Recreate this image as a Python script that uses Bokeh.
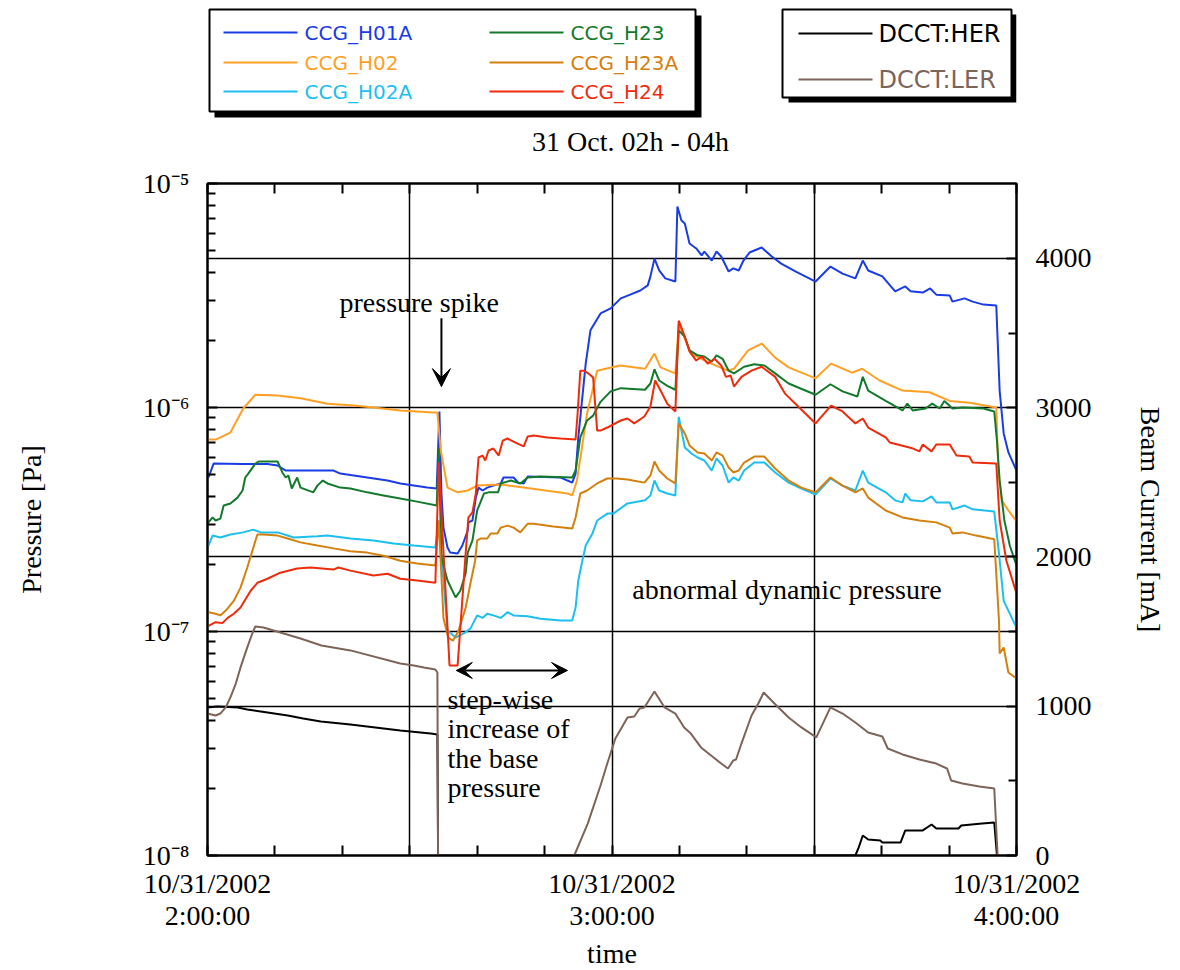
from bokeh.plotting import figure
from bokeh.layouts import column
from bokeh.models import (Range1d, LinearAxis, LinearScale, FixedTicker, CustomJSTickFormatter,
                          Grid, Label, Arrow, VeeHead)
from bokeh.core.properties import value
from bokeh.embed import file_html
from bokeh.resources import INLINE

SERIF = "Liberation Serif"
SANS = "DejaVu Sans"

# ---------------- data: (minutes after 02:00, pressure [Pa]) ----------------
h01a = [(0.15, 4.87e-7), (0.9, 5.62e-7), (5.0, 5.6e-7), (8.9, 5.6e-7), (10.4, 5.51e-7), (11.6, 5.23e-7),
        (18.7, 5.23e-7), (19.7, 5.07e-7), (23.7, 4.87e-7), (26.7, 4.72e-7), (28.6, 4.58e-7), (32.6, 4.39e-7),
        (34.0, 4.35e-7), (34.4, 9.6e-7), (34.7, 4.13e-7), (35.0, 2.91e-7), (35.6, 2.37e-7), (36.0, 2.25e-7),
        (37.1, 2.23e-7), (37.8, 2.42e-7), (38.6, 2.82e-7), (38.7, 3.07e-7), (39.3, 3.13e-7), (39.8, 3.96e-7),
        (40.2, 4.39e-7), (40.8, 4.26e-7), (41.5, 4.39e-7), (42.4, 4.48e-7), (43.5, 4.58e-7), (43.9, 4.87e-7),
        (45.4, 4.87e-7), (46.1, 4.62e-7), (46.9, 4.58e-7), (47.5, 4.92e-7), (52.4, 4.87e-7), (53.4, 4.72e-7),
        (54.1, 4.62e-7), (54.6, 5.07e-7), (55.0, 7.35e-7), (55.6, 1.11e-6), (56.1, 1.57e-6), (56.8, 2.21e-6),
        (58.3, 2.63e-6), (59.8, 2.77e-6), (61.3, 3.07e-6), (62.7, 3.19e-6), (64.2, 3.33e-6), (65.3, 3.51e-6),
        (65.7, 3.85e-6), (66.3, 4.62e-6), (67.0, 4.09e-6), (67.9, 3.77e-6), (69.4, 3.65e-6), (69.7, 7.89e-6),
        (70.3, 6.84e-6), (70.8, 6.63e-6), (71.5, 5.40e-6), (72.5, 5.13e-6), (73.3, 4.78e-6), (73.7, 4.97e-6),
        (74.8, 4.53e-6), (75.5, 4.97e-6), (76.2, 4.72e-6), (77.3, 4.05e-6), (78.0, 4.18e-6), (78.8, 4.09e-6),
        (79.5, 4.53e-6), (80.4, 4.92e-6), (82.2, 5.18e-6), (83.7, 4.72e-6), (85.1, 4.39e-6), (87.2, 4.05e-6),
        (90.2, 3.65e-6), (92.4, 4.26e-6), (94.2, 3.96e-6), (96.1, 3.77e-6), (97.2, 4.53e-6), (98.0, 4.09e-6),
        (100.1, 3.85e-6), (102.0, 3.30e-6), (103.5, 3.47e-6), (104.3, 3.30e-6), (106.1, 3.26e-6), (107.2, 3.40e-6),
        (108.1, 3.19e-6), (110.1, 3.16e-6), (110.5, 2.97e-6), (112.3, 3.07e-6), (113.5, 2.97e-6), (115.1, 2.88e-6),
        (117.0, 2.85e-6), (117.5, 1.19e-6), (118.1, 7.66e-7), (118.8, 6.30e-7), (120.0, 5.23e-7)]

h02 = [(0.15, 7.2e-7), (1.3, 7.2e-7), (3.4, 7.73e-7), (5.3, 9.9e-7), (7.1, 1.14e-6), (10.4, 1.13e-6),
       (13.8, 1.10e-6), (17.8, 1.04e-6), (21.7, 1.02e-6), (24.6, 1.0e-6), (28.6, 9.7e-7), (33.5, 9.5e-7),
       (34.1, 9.5e-7), (34.6, 6.43e-7), (35.6, 4.39e-7), (37.1, 4.18e-7), (38.6, 4.26e-7), (40.0, 4.48e-7),
       (43.5, 4.53e-7), (46.9, 4.39e-7), (53.4, 4.13e-7), (54.1, 4.05e-7), (54.8, 4.72e-7), (56.3, 9.4e-7),
       (57.8, 1.46e-6), (61.2, 1.54e-6), (64.9, 1.49e-6), (66.3, 1.74e-6), (67.2, 1.51e-6), (69.4, 1.42e-6),
       (69.9, 2.37e-6), (71.7, 1.74e-6), (74.7, 1.57e-6), (77.2, 1.46e-6), (78.1, 1.49e-6), (80.2, 1.80e-6),
       (82.2, 1.93e-6), (84.2, 1.67e-6), (86.2, 1.51e-6), (90.2, 1.35e-6), (92.5, 1.57e-6), (95.6, 1.43e-6),
       (97.1, 1.49e-6), (99.7, 1.32e-6), (103.1, 1.19e-6), (107.1, 1.17e-6), (110.1, 1.07e-6), (113.0, 1.05e-6),
       (117.0, 1.0e-6), (117.3, 5.23e-7), (117.8, 3.85e-7), (118.8, 3.47e-7), (120.0, 3.1e-7)]

h02a = [(0.15, 2.42e-7), (0.75, 2.68e-7), (1.9, 2.63e-7), (3.4, 2.71e-7), (5.3, 2.77e-7), (6.8, 2.85e-7),
        (7.9, 2.77e-7), (10.4, 2.77e-7), (12.8, 2.63e-7), (16.3, 2.66e-7), (17.8, 2.68e-7), (21.2, 2.60e-7),
        (24.6, 2.55e-7), (27.6, 2.47e-7), (30.6, 2.42e-7), (33.8, 2.37e-7), (34.3, 3.13e-7), (35.6, 1.01e-7),
        (36.8, 9.4e-8), (38.0, 9.8e-8), (39.0, 1.03e-7), (40.0, 1.18e-7), (40.8, 1.15e-7), (41.5, 1.20e-7),
        (42.4, 1.18e-7), (43.5, 1.15e-7), (44.5, 1.22e-7), (45.4, 1.18e-7), (47.5, 1.17e-7), (49.4, 1.14e-7),
        (52.4, 1.12e-7), (54.1, 1.12e-7), (54.6, 1.28e-7), (55.0, 1.69e-7), (55.6, 2.07e-7), (56.1, 2.42e-7),
        (57.1, 2.74e-7), (57.8, 3.13e-7), (59.3, 3.36e-7), (60.2, 3.36e-7), (62.3, 3.73e-7), (64.9, 3.85e-7),
        (65.7, 4.05e-7), (66.3, 4.72e-7), (67.0, 4.26e-7), (68.2, 4.13e-7), (69.4, 4.05e-7), (69.9, 9.1e-7),
        (70.8, 6.63e-7), (71.8, 6.23e-7), (72.7, 5.98e-7), (73.7, 5.80e-7), (74.8, 5.23e-7), (75.5, 5.92e-7),
        (76.4, 5.51e-7), (77.3, 4.62e-7), (78.0, 4.87e-7), (78.8, 4.72e-7), (79.6, 5.23e-7), (81.1, 5.68e-7),
        (82.6, 5.68e-7), (84.2, 5.13e-7), (86.2, 4.62e-7), (88.1, 4.35e-7), (90.2, 4.09e-7), (92.4, 4.82e-7),
        (94.2, 4.48e-7), (96.1, 4.26e-7), (97.2, 5.23e-7), (98.0, 4.62e-7), (100.6, 4.18e-7), (102.0, 3.85e-7),
        (103.1, 3.77e-7), (103.5, 4.13e-7), (104.3, 3.85e-7), (106.1, 3.81e-7), (107.4, 4.01e-7), (108.1, 3.77e-7),
        (110.1, 3.77e-7), (110.5, 3.51e-7), (112.3, 3.65e-7), (113.5, 3.51e-7), (116.7, 3.43e-7), (117.4, 2.23e-7),
        (118.1, 1.37e-7), (120.0, 1.04e-7)]

h23 = [(0.0, 3.03e-7), (0.75, 3.23e-7), (1.2, 3.13e-7), (1.9, 3.19e-7), (2.4, 3.65e-7), (3.4, 3.73e-7),
       (4.45, 3.96e-7), (5.2, 4.26e-7), (5.6, 4.87e-7), (6.05, 5.07e-7), (7.1, 5.62e-7), (7.6, 5.74e-7),
       (10.4, 5.74e-7), (11.1, 5.13e-7), (11.6, 4.87e-7), (12.0, 4.97e-7), (12.5, 4.35e-7), (13.3, 4.87e-7),
       (13.8, 4.39e-7), (15.7, 4.18e-7), (16.3, 4.48e-7), (17.1, 4.72e-7), (17.8, 4.58e-7), (19.7, 4.39e-7),
       (21.2, 4.35e-7), (23.7, 4.18e-7), (26.1, 4.05e-7), (28.6, 3.92e-7), (31.1, 3.80e-7), (34.0, 3.65e-7),
       (34.3, 6.56e-7), (34.7, 2.14e-7), (35.6, 1.69e-7), (36.8, 1.42e-7), (37.5, 1.52e-7), (38.3, 1.82e-7),
       (38.6, 2.25e-7), (39.3, 2.55e-7), (40.0, 3.47e-7), (41.0, 4.13e-7), (41.7, 4.18e-7), (43.1, 4.18e-7),
       (43.5, 4.58e-7), (45.0, 4.72e-7), (46.4, 4.58e-7), (47.5, 4.87e-7), (49.4, 4.92e-7), (54.1, 4.87e-7),
       (54.6, 5.23e-7), (55.3, 7.35e-7), (56.3, 8.75e-7), (57.2, 9.2e-7), (58.3, 1.06e-6), (59.8, 1.18e-6),
       (61.3, 1.22e-6), (64.9, 1.20e-6), (65.7, 1.28e-6), (66.3, 1.48e-6), (67.0, 1.32e-6), (68.2, 1.25e-6),
       (69.4, 1.20e-6), (69.9, 2.21e-6), (70.8, 2.07e-6), (71.5, 1.80e-6), (72.7, 1.71e-6), (73.7, 1.69e-6),
       (74.8, 1.60e-6), (75.5, 1.71e-6), (76.4, 1.65e-6), (77.3, 1.46e-6), (78.1, 1.42e-6), (79.6, 1.52e-6),
       (81.1, 1.56e-6), (82.6, 1.54e-6), (84.2, 1.42e-6), (86.2, 1.28e-6), (90.2, 1.14e-6), (92.4, 1.27e-6),
       (94.2, 1.18e-6), (96.4, 1.12e-6), (97.2, 1.37e-6), (98.0, 1.19e-6), (100.6, 1.07e-6), (103.1, 9.7e-7),
       (103.8, 1.04e-6), (104.6, 9.7e-7), (106.5, 9.9e-7), (107.5, 1.04e-6), (108.6, 9.9e-7), (109.3, 1.07e-6),
       (110.5, 9.9e-7), (112.0, 1.0e-6), (115.1, 9.9e-7), (116.7, 9.6e-7), (117.1, 7.12e-7), (117.5, 4.72e-7),
       (118.2, 3.13e-7), (119.0, 2.42e-7), (120.0, 1.97e-7)]

h23a = [(0.15, 1.22e-7), (1.2, 1.20e-7), (1.9, 1.18e-7), (2.7, 1.24e-7), (3.9, 1.37e-7), (4.9, 1.57e-7),
        (5.9, 1.93e-7), (6.8, 2.37e-7), (7.4, 2.71e-7), (8.3, 2.71e-7), (10.4, 2.68e-7), (11.9, 2.60e-7),
        (13.8, 2.50e-7), (16.3, 2.42e-7), (18.7, 2.35e-7), (21.2, 2.28e-7), (23.7, 2.25e-7), (26.1, 2.18e-7),
        (28.6, 2.07e-7), (31.1, 2.01e-7), (33.8, 1.97e-7), (34.3, 3.13e-7), (35.0, 1.15e-7), (35.7, 9.4e-8),
        (36.4, 9.1e-8), (37.2, 1.0e-7), (38.3, 1.28e-7), (39.0, 1.64e-7), (39.7, 2.07e-7), (40.0, 2.55e-7),
        (40.5, 2.60e-7), (41.5, 2.60e-7), (42.0, 2.74e-7), (43.0, 2.74e-7), (43.5, 2.91e-7), (44.5, 2.97e-7),
        (45.4, 2.91e-7), (46.4, 2.77e-7), (47.5, 3.03e-7), (48.4, 3.03e-7), (51.3, 2.94e-7), (54.1, 2.88e-7),
        (54.6, 3.23e-7), (55.3, 4.13e-7), (56.3, 4.26e-7), (57.8, 4.58e-7), (59.3, 4.82e-7), (60.7, 4.82e-7),
        (62.3, 4.77e-7), (64.8, 4.62e-7), (65.7, 4.97e-7), (66.3, 5.74e-7), (67.0, 5.23e-7), (68.2, 4.82e-7),
        (69.4, 4.58e-7), (69.9, 8.49e-7), (70.8, 7.66e-7), (71.5, 6.77e-7), (72.7, 6.30e-7), (73.7, 6.23e-7),
        (74.8, 5.80e-7), (75.5, 6.30e-7), (76.4, 6.1e-7), (77.3, 5.40e-7), (78.0, 5.13e-7), (78.8, 5.23e-7),
        (79.6, 5.68e-7), (81.1, 6.04e-7), (82.6, 6.04e-7), (84.2, 5.34e-7), (86.2, 4.72e-7), (88.1, 4.39e-7),
        (90.2, 4.18e-7), (92.4, 4.87e-7), (94.2, 4.48e-7), (96.1, 4.18e-7), (97.2, 4.35e-7), (98.0, 3.96e-7),
        (100.6, 3.47e-7), (103.1, 3.23e-7), (105.6, 3.13e-7), (108.1, 3.07e-7), (110.1, 2.91e-7), (110.5, 2.74e-7),
        (112.0, 2.77e-7), (114.0, 2.68e-7), (116.7, 2.58e-7), (117.4, 1.12e-7), (117.5, 7.97e-8), (118.1, 8.49e-8),
        (118.8, 6.56e-8), (120.0, 6.17e-8)]

h24 = [(0.15, 1.06e-7), (1.2, 1.10e-7), (2.2, 1.09e-7), (3.0, 1.15e-7), (3.9, 1.20e-7), (4.9, 1.28e-7),
       (6.4, 1.52e-7), (7.4, 1.65e-7), (8.9, 1.72e-7), (10.8, 1.83e-7), (13.3, 1.91e-7), (15.3, 1.93e-7),
       (18.7, 1.89e-7), (19.4, 1.93e-7), (21.2, 1.87e-7), (24.6, 1.78e-7), (26.7, 1.81e-7), (28.6, 1.72e-7),
       (31.1, 1.69e-7), (33.8, 1.65e-7), (34.3, 5.68e-7), (35.9, 7.05e-8), (37.1, 7.05e-8), (38.3, 2.25e-7),
       (38.7, 3.23e-7), (39.3, 3.40e-7), (39.8, 4.13e-7), (40.2, 5.98e-7), (40.8, 6.1e-7), (41.2, 5.80e-7),
       (41.7, 6.43e-7), (42.4, 6.56e-7), (43.2, 6.1e-7), (43.8, 7.12e-7), (44.5, 7.27e-7), (46.0, 6.9e-7),
       (46.9, 6.7e-7), (47.5, 7.43e-7), (48.4, 7.5e-7), (50.4, 7.35e-7), (52.4, 7.27e-7), (54.6, 7.2e-7),
       (54.9, 9.4e-7), (55.3, 1.46e-6), (55.8, 1.46e-6), (56.5, 1.42e-6), (57.2, 1.36e-6), (57.8, 7.89e-7),
       (58.3, 7.89e-7), (59.3, 8.14e-7), (61.3, 8.75e-7), (62.3, 8.93e-7), (63.3, 8.49e-7), (64.8, 9.12e-7),
       (65.7, 1.01e-6), (66.4, 1.32e-6), (67.2, 1.19e-6), (68.2, 1.04e-6), (69.4, 9.6e-7), (69.9, 2.44e-6),
       (70.8, 2.07e-6), (71.5, 1.78e-6), (72.5, 1.62e-6), (73.3, 1.69e-6), (74.2, 1.57e-6), (75.2, 1.65e-6),
       (76.2, 1.54e-6), (76.9, 1.37e-6), (77.6, 1.39e-6), (78.1, 1.24e-6), (79.2, 1.37e-6), (80.7, 1.46e-6),
       (82.2, 1.52e-6), (84.2, 1.37e-6), (85.7, 1.15e-6), (87.2, 1.04e-6), (90.2, 8.49e-7), (92.5, 1.02e-6),
       (94.2, 9.6e-7), (96.1, 8.49e-7), (97.2, 8.93e-7), (98.0, 8.14e-7), (100.6, 7.35e-7), (101.2, 6.98e-7),
       (104.4, 6.6e-7), (105.6, 6.37e-7), (106.1, 6.84e-7), (107.4, 6.37e-7), (108.1, 6.84e-7), (110.1, 6.84e-7),
       (111.1, 6.1e-7), (113.0, 6.04e-7), (113.5, 5.68e-7), (117.0, 5.62e-7), (117.5, 3.13e-7), (118.5, 2.07e-7),
       (120.0, 1.48e-7)]

# ---------------- data: (minutes after 02:00, beam current [mA]) ----------------
her = [(0.0, 992), (1.5, 998), (4.5, 992), (5.9, 978), (7.9, 965), (11.9, 938), (14.2, 918), (16.8, 898),
       (21.2, 878), (28.6, 838), (33.1, 818), (34.1, 811), (34.2, 0), (96.1, 0), (96.6, 54), (97.2, 134),
       (98.0, 107), (99.8, 100), (100.1, 87), (102.8, 87), (103.5, 168), (106.1, 168), (107.4, 208),
       (108.1, 181), (111.4, 181), (111.8, 201), (114.9, 214), (116.7, 221), (117.1, 0)]

ler = [(0.0, 951), (1.2, 938), (1.9, 951), (2.7, 992), (3.4, 1059), (4.2, 1152), (4.9, 1260), (5.9, 1394),
       (6.7, 1494), (7.1, 1534), (8.3, 1528), (13.8, 1454), (16.9, 1407), (21.2, 1374), (28.6, 1286),
       (30.6, 1273), (32.1, 1260), (33.8, 1246), (34.1, 1226), (34.2, 0), (54.4, 0), (56.4, 214), (58.3, 469),
       (59.3, 616), (60.5, 784), (62.3, 925), (63.3, 931), (64.1, 985), (64.8, 992), (66.3, 1099), (67.8, 992),
       (69.4, 951), (70.7, 858), (71.7, 817), (73.2, 724), (74.7, 670), (76.2, 616), (77.2, 583), (78.0, 637),
       (78.4, 643), (79.2, 750), (80.7, 938), (81.7, 1018), (82.5, 1092), (84.1, 1018), (86.2, 925),
       (88.1, 858), (90.3, 791), (92.4, 992), (94.2, 951), (96.1, 891), (98.0, 824), (100.1, 797),
       (100.9, 717), (103.1, 677), (105.6, 643), (108.1, 616), (109.7, 583), (110.3, 503), (112.0, 482),
       (114.5, 462), (116.7, 449), (117.2, 0)]

pressure_names = ["CCG_H01A", "CCG_H02", "CCG_H02A", "CCG_H23", "CCG_H23A", "CCG_H24"]
pressure_colors = ["#1a3ce6", "#ffa024", "#1cbff0", "#137a2c", "#d4800e", "#ee2c0c"]
pressure_series = [h01a, h02, h02a, h23, h23a, h24]

current_names = ["DCCT:HER", "DCCT:LER"]
current_colors = ["#000000", "#7d6459"]
current_series = [her, ler]

x_tick_values = [0, 60, 120]
x_tick_labels = ["10/31/2002\n2:00:00", "10/31/2002\n3:00:00", "10/31/2002\n4:00:00"]
x_minor_ticks = [10, 20, 30, 40, 50, 70, 80, 90, 100, 110]
y_tick_values = [1e-8, 1e-7, 1e-6, 1e-5]
y_tick_labels = ["10\u207b\u2078", "10\u207b\u2077", "10\u207b\u2076", "10\u207b\u2075"]
current_tick_values = [0, 1000, 2000, 3000, 4000]

title_text = "31 Oct. 02h - 04h"

# layout geometry (pixels)
FRAME_W, FRAME_H = 809, 672
BORDER_L, BORDER_R = 207, 160
TOP_H = 160

# ---------------- top strip: legends and title ----------------
# its frame is aligned with the chart frame by the column layout; data units = page pixels
top = figure(frame_width=FRAME_W, frame_height=TOP_H, x_range=Range1d(BORDER_L, BORDER_L + FRAME_W),
             y_range=Range1d(TOP_H, 0), x_axis_location=None, y_axis_location=None,
             output_backend="svg", toolbar_location=None, min_border_left=BORDER_L,
             min_border_right=BORDER_R, min_border_top=0, min_border_bottom=0)
top.grid.visible = False
top.outline_line_color = None

# legend 1 (pressures)
top.quad(left=[214], right=[701], top=[15], bottom=[117], fill_color="black", line_color=None)
top.quad(left=[209], right=[695], top=[9], bottom=[111], fill_color="white", line_color="black", line_width=2)
col_x = [223, 489]
row_y = [32, 62, 91]
lx0 = [col_x[i // 3] for i in range(len(pressure_names))]
ly = [row_y[i % 3] for i in range(len(pressure_names))]
top.segment(x0=lx0, y0=ly, x1=[x + 74 for x in lx0], y1=ly, line_color=pressure_colors, line_width=2)
top.text(x=[x + 81 for x in lx0], y=ly, text=pressure_names, text_color=pressure_colors,
         text_font=value(SANS), text_font_size=value("20px"), text_baseline="middle", text_align="left")

# legend 2 (currents)
top.quad(left=[788], right=[1016], top=[14], bottom=[102], fill_color="black", line_color=None)
top.quad(left=[782], right=[1011], top=[9], bottom=[97], fill_color="white", line_color="black", line_width=2)
ly2 = [33, 79]
top.segment(x0=[798, 798], y0=ly2, x1=[872, 872], y1=ly2, line_color=current_colors, line_width=2)
top.text(x=[878, 878], y=ly2, text=current_names, text_color=current_colors,
         text_font=value(SANS), text_font_size=value("24px"), text_baseline="middle", text_align="left")

top.text(x=[630], y=[141], text=[title_text], text_color="black", text_font=value(SERIF),
         text_font_size=value("28px"), text_baseline="middle", text_align="center")

# ---------------- main chart ----------------
p = figure(frame_width=FRAME_W, frame_height=FRAME_H, x_range=Range1d(0, 120), y_range=Range1d(1e-8, 1e-5),
           y_axis_type="log", output_backend="svg", toolbar_location=None,
           min_border_left=BORDER_L, min_border_right=BORDER_R, min_border_top=23, min_border_bottom=5)
p.extra_y_ranges = {"current": Range1d(0, 4502)}
p.extra_y_scales = {"current": LinearScale()}
p.outline_line_color = "black"
p.outline_line_width = 2
p.background_fill_color = "white"


def style_axis(ax):
    ax.axis_line_width = 2
    ax.axis_line_color = "black"
    ax.major_tick_in = 10
    ax.major_tick_out = 0
    ax.minor_tick_in = 8
    ax.minor_tick_out = 0
    ax.major_tick_line_width = 2
    ax.minor_tick_line_width = 2
    ax.major_tick_line_color = "black"
    ax.minor_tick_line_color = "black"
    ax.major_label_text_font = SERIF
    ax.major_label_text_font_size = "28px"
    ax.major_label_text_color = "black"
    ax.axis_label_text_font = SERIF
    ax.axis_label_text_font_size = "28px"
    ax.axis_label_text_font_style = "normal"
    ax.axis_label_text_color = "black"


xax = p.xaxis[0]
xax.ticker = FixedTicker(ticks=x_tick_values, minor_ticks=x_minor_ticks)
xax.formatter = CustomJSTickFormatter(args=dict(vals=x_tick_values, txt=x_tick_labels),
                                      code="const i = vals.indexOf(tick); return i < 0 ? '' : txt[i];")
xax.axis_label = "time"
style_axis(xax)
xax.minor_tick_in = 10
xax.major_label_standoff = 12
xax.major_label_text_line_height = 1.05
xax.axis_label_standoff = 4

topax = LinearAxis(ticker=FixedTicker(ticks=[], minor_ticks=x_tick_values + x_minor_ticks))
style_axis(topax)
topax.minor_tick_in = 10
p.add_layout(topax, "above")

yax = p.yaxis[0]
yax.ticker = FixedTicker(ticks=y_tick_values,
                         minor_ticks=[m * 10.0 ** e for e in (-8, -7, -6) for m in range(2, 10)])
yax.formatter = CustomJSTickFormatter(
    args=dict(vals=y_tick_values, txt=y_tick_labels),
    code="for (let i = 0; i < vals.length; i++) { if (Math.abs(tick - vals[i]) < 1e-3 * vals[i]) return txt[i]; } return '';")
yax.axis_label = "Pressure [Pa]"
style_axis(yax)
yax.major_label_standoff = 18
yax.axis_label_standoff = 93

rax = LinearAxis(y_range_name="current",
                 ticker=FixedTicker(ticks=current_tick_values, minor_ticks=[500, 1500, 2500, 3500]),
                 axis_label="Beam Current [mA]")
style_axis(rax)
rax.major_label_standoff = 19
rax.axis_label_standoff = 40
p.add_layout(rax, "right")

for g in (p.xgrid[0], p.ygrid[0]):
    g.grid_line_color = "black"
    g.grid_line_width = 1.5
    g.grid_line_alpha = 1.0
p.xgrid[0].ticker = FixedTicker(ticks=[30, 60, 90])
p.ygrid[0].ticker = FixedTicker(ticks=[1e-7, 1e-6])
p.add_layout(Grid(dimension=1, y_range_name="current",
                  ticker=FixedTicker(ticks=[1000, 2000, 4000]),
                  grid_line_color="black", grid_line_width=1.5))

for series, color in zip(current_series, current_colors):
    t, v = zip(*series)
    p.line(list(t), list(v), line_color=color, line_width=2, y_range_name="current")

for series, color in zip(pressure_series, pressure_colors):
    t, v = zip(*series)
    p.line(list(t), list(v), line_color=color, line_width=2)

# ---------------- annotations ----------------
def add_label(x, y, text, align="left"):
    p.add_layout(Label(x=x, y=y, text=text, text_font=SERIF, text_font_size="28px",
                       text_color="black", text_align=align, text_baseline="middle"))


add_label(31.4, 2.94e-6, "pressure spike", "center")
p.add_layout(Arrow(end=VeeHead(size=18, fill_color="black", line_color="black"),
                   x_start=34.7, y_start=2.5e-6, x_end=34.7, y_end=1.24e-6,
                   line_color="black", line_width=2))

p.add_layout(Arrow(start=VeeHead(size=16, fill_color="black", line_color="black"),
                   end=VeeHead(size=16, fill_color="black", line_color="black"),
                   x_start=36.9, y_start=6.7e-8, x_end=53.4, y_end=6.7e-8,
                   line_color="black", line_width=2))

for txt, yy in zip(["step-wise", "increase of", "the base", "pressure"], [4.97e-8, 3.69e-8, 2.71e-8, 2.01e-8]):
    add_label(35.6, yy, txt)

add_label(63.0, 1.54e-7, "abnormal dynamic pressure")

layout = column(top, p)
open("out.html", "w").write(file_html(layout, INLINE))
